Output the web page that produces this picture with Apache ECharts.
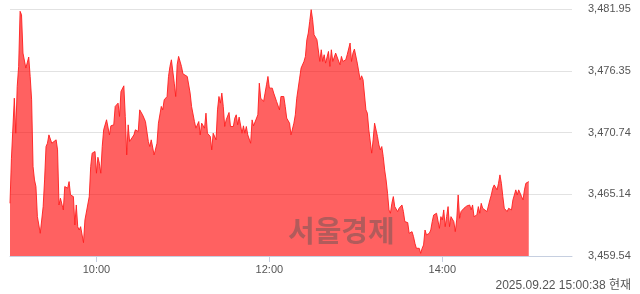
<!DOCTYPE html>
<html>
<head>
<meta charset="utf-8">
<script src="https://cdn.jsdelivr.net/npm/echarts@6/dist/echarts.min.js"></script>
<style>
html,body{margin:0;padding:0;background:#fff;}
#chart{width:640px;height:294px;}
</style>
</head>
<body>
<div id="chart"></div>
<script>
// Minutes since 09:00
const minutes = [0,1,2,3,4,5,6,7,8,9,10,11,13,14,15,16,17,18,19,20,21,23,24,25,26,27,29,30,32,33,34,35,36,37,38,40,41,42,44,45,46,47,48,49,51,52,53,55,56,57,59,60,61,62,63,64,65,67,69,70,72,73,75,76,77,78,79,80,81,82,83,84,86,87,88,89,90,92,93,94,96,97,98,99,100,102,103,105,106,107,109,110,111,112,113,114,115,116,117,119,120,121,123,124,125,126,127,128,129,131,132,133,135,136,137,138,139,140,141,142,143,144,145,146,147,148,149,150,151,152,153,155,156,157,158,159,160,161,162,163,164,165,166,167,168,169,170,172,173,174,176,177,178,179,180,182,183,185,186,187,188,190,191,192,194,195,197,198,199,201,202,204,205,206,207,208,209,210,211,212,213,215,216,217,218,219,221,222,223,224,225,226,227,229,230,231,233,234,236,237,238,239,241,242,243,244,245,247,248,249,251,252,253,254,255,256,257,258,259,260,261,262,263,264,265,266,267,269,270,272,273,274,276,277,278,279,280,281,282,284,285,286,287,288,289,291,292,293,294,296,297,298,299,300,301,302,303,304,305,306,308,309,310,311,312,313,314,315,316,317,318,319,320,321,322,323,324,325,326,327,328,329,331,332,333,334,335,336,337,338,339,340,341,342,343,344,345,346,347,348,349,350,351,352,353,354,355,356,357,358,359,360];
const prices = [3464.32,3468.41,3468.56,3473.86,3470.68,3474.92,3476.74,3481.74,3481.43,3477.95,3477.89,3476.59,3477.59,3475.83,3473.71,3467.66,3466.44,3465.84,3463.12,3462.96,3461.60,3464.02,3466.44,3469.47,3469.77,3470.53,3469.77,3469.62,3470.08,3469.17,3464.17,3464.78,3464.93,3463.72,3465.84,3465.69,3466.29,3465.08,3464.93,3462.36,3464.17,3462.20,3461.90,3462.20,3460.75,3462.81,3462.96,3464.93,3467.66,3468.87,3469.02,3467.05,3468.50,3467.96,3467.05,3469.47,3470.99,3471.90,3470.53,3471.35,3471.44,3473.11,3473.41,3472.20,3474.47,3474.62,3474.98,3472.20,3468.71,3471.44,3469.93,3469.93,3470.53,3470.99,3470.84,3470.84,3472.80,3472.35,3472.05,3471.74,3469.93,3469.47,3470.08,3469.93,3468.71,3469.77,3471.59,3473.11,3472.80,3473.71,3474.01,3475.83,3476.74,3477.34,3477.34,3475.22,3474.01,3476.89,3477.65,3476.74,3476.07,3476.19,3475.83,3475.77,3474.32,3473.11,3472.95,3471.74,3471.14,3471.74,3470.53,3471.59,3471.14,3472.50,3470.68,3470.53,3470.38,3469.17,3470.68,3470.68,3470.08,3472.80,3474.01,3473.41,3474.32,3473.11,3471.29,3471.89,3472.05,3472.56,3471.29,3471.29,3472.05,3472.35,3471.44,3472.14,3471.96,3470.68,3471.35,3470.68,3471.29,3470.53,3470.68,3469.77,3471.89,3471.35,3471.53,3472.35,3475.22,3473.86,3473.56,3474.32,3475.07,3475.83,3474.77,3474.77,3474.32,3473.56,3473.41,3472.80,3474.01,3474.01,3473.11,3472.05,3471.59,3470.53,3471.59,3472.35,3473.86,3475.68,3476.59,3477.19,3477.65,3479.16,3479.77,3480.83,3481.89,3480.98,3479.62,3479.53,3479.16,3477.19,3478.25,3477.19,3477.80,3477.04,3478.10,3476.74,3478.25,3477.19,3477.34,3477.95,3477.95,3476.89,3477.65,3477.19,3477.34,3477.80,3478.86,3477.19,3477.95,3478.31,3477.04,3476.89,3475.53,3475.89,3475.53,3472.80,3472.50,3470.99,3468.87,3470.08,3471.59,3471.74,3470.38,3469.62,3469.17,3469.47,3468.56,3467.35,3466.44,3465.23,3463.72,3463.42,3464.32,3464.93,3464.02,3463.57,3463.87,3464.17,3463.57,3462.66,3462.57,3461.60,3461.60,3461.75,3461.30,3460.69,3460.24,3460.24,3459.78,3460.24,3460.54,3461.90,3461.45,3461.60,3461.90,3462.66,3463.26,3463.42,3463.48,3462.05,3463.11,3462.81,3463.72,3462.20,3463.11,3464.02,3462.20,3463.11,3462.66,3461.75,3462.81,3465.08,3462.96,3463.57,3463.72,3463.87,3463.72,3464.08,3464.02,3464.17,3463.72,3464.17,3463.11,3462.96,3463.27,3464.02,3463.42,3464.32,3463.87,3463.72,3463.57,3463.72,3464.63,3465.08,3465.69,3465.99,3465.90,3465.54,3466.14,3466.90,3466.14,3464.93,3463.87,3463.78,3463.57,3463.87,3463.72,3463.72,3464.63,3465.08,3465.54,3465.08,3465.54,3465.38,3464.93,3464.63,3465.54,3466.14,3466.20,3466.29];

const yTickLabels = ['3,459.54','3,465.14','3,470.74','3,476.35','3,481.95'];
const Y_MIN = 3459.54;
const Y_MAX = 3481.95;
const Y_STEP = (Y_MAX - Y_MIN) / 4;

const xTickMinutes = [60, 180, 300];
const xTickLabels = ['10:00', '12:00', '14:00'];
const X_END = 390; // 15:30

const watermark = '서울경제';
const stamp = '2025.09.22 15:00:38 현재';

const seriesData = minutes.map((m, i) => [m, (prices[i] - Y_MIN) / Y_STEP]);

const chart = echarts.init(document.getElementById('chart'), null, {renderer: 'canvas'});
chart.setOption({
  animation: false,
  grid: {left: 10, right: 68, top: 9, bottom: 38},
  xAxis: {
    type: 'value',
    min: 0,
    max: X_END,
    axisLine: {show: true, lineStyle: {color: '#c6cfe0', width: 1}},
    axisTick: {show: true, customValues: xTickMinutes, length: 6, lineStyle: {color: '#c6cfe0'}},
    axisLabel: {
      customValues: xTickMinutes,
      formatter: v => { const k = xTickMinutes.indexOf(Math.round(v)); return k >= 0 ? xTickLabels[k] : ''; },
      color: '#555', fontSize: 11, fontFamily: 'Liberation Sans, sans-serif', margin: 8
    },
    splitLine: {show: false}
  },
  yAxis: {
    type: 'value',
    position: 'right',
    min: 0,
    max: 4,
    interval: 1,
    axisLine: {show: false},
    axisTick: {show: false},
    axisLabel: {
      formatter: v => yTickLabels[Math.round(v)] || '',
      color: '#555', fontSize: 11, fontFamily: 'Liberation Sans, sans-serif', margin: 16
    },
    splitLine: {show: true, lineStyle: {color: '#e2e2e2', width: 1}}
  },
  series: [{
    type: 'line',
    data: seriesData,
    showSymbol: false,
    lineStyle: {color: 'rgba(255,30,30,0.9)', width: 1},
    areaStyle: {color: 'rgba(255,0,0,0.62)', opacity: 1, origin: 'start'},
    z: 2
  }],
  graphic: [
    {
      type: 'text', left: 288, top: 216, z: 100,
      style: {text: watermark, font: 'bold 29px "Noto Sans CJK KR", sans-serif', fill: 'rgba(85,85,85,0.45)'}
    },
    {
      type: 'text', right: 9, top: 280, z: 100,
      style: {text: stamp, font: '12px "Liberation Sans", "Noto Sans CJK KR", sans-serif', fill: '#555'}
    }
  ]
});
</script>
</body>
</html>
